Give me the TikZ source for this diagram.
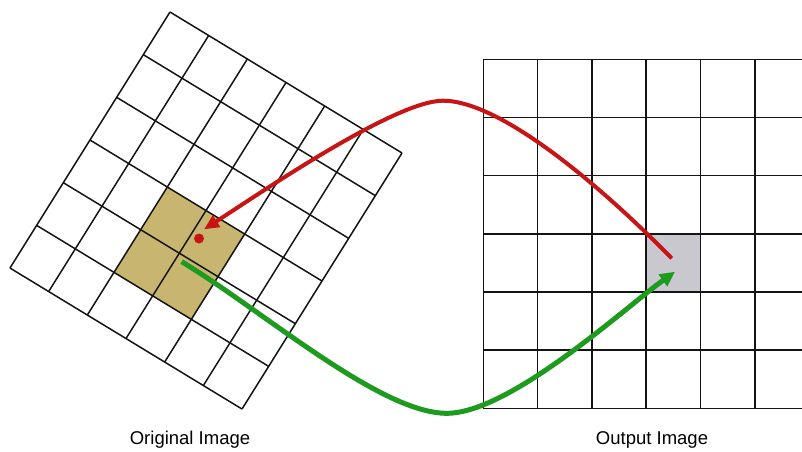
\documentclass[tikz,border=0pt]{standalone}
\usepackage{fontspec}
\setmainfont{Liberation Sans}
\usetikzlibrary{arrows.meta}
\definecolor{gridline}{RGB}{20,20,20}
\definecolor{khaki}{RGB}{200,182,112}
\definecolor{cellgray}{RGB}{200,200,206}
\definecolor{arrowred}{RGB}{200,20,20}
\definecolor{arrowgreen}{RGB}{30,155,30}
\tikzset{
  gridstroke/.style={draw=gridline, line width=1.5pt},
  redarrow/.style={draw=arrowred, line width=4pt, -{Triangle[length=15pt,width=13pt]}},
  greenarrow/.style={draw=arrowgreen, line width=5pt, -{Triangle[length=15pt,width=14pt]}},
  caption/.style={font=\fontsize{18.5}{22}\selectfont, text=black, inner sep=0pt}
}
\begin{document}
\begin{tikzpicture}[x=1pt,y=-1pt]
\useasboundingbox (0,0) rectangle (802,451);
\fill[white] (0,0) rectangle (802,451);

% right (output) grid
\fill[cellgray] (646.6,233.8) rectangle (700.9,292.0);
\foreach \k in {0,...,5} {
  \draw[gridstroke] ({483.3+54.3*\k},59.3) -- ({483.3+54.3*\k},408.3);
}
\foreach \k in {0,...,6} {
  \draw[gridstroke] (483.3,{59.3+58.17*\k}) -- (802,{59.3+58.17*\k});
}

% left (original) rotated grid
\begin{scope}[shift={(170,12)}, x={(38.67pt,-23.5pt)}, y={(-26.67pt,-42.67pt)}]
  \fill[khaki] (2,3) -- (4,3) -- (4,5) -- (2,5) -- cycle;
  \foreach \k in {0,...,6} {
    \draw[gridstroke] (\k,0) -- (\k,6);
    \draw[gridstroke] (0,\k) -- (6,\k);
  }
\end{scope}

% named points
\coordinate (redstart) at (671.7,258.3);
\coordinate (redpeak) at (443,100.7);
\coordinate (redtip) at (204,229.3);
\coordinate (greenstart) at (181.7,261.7);
\coordinate (greenlow) at (446.7,413.3);
\coordinate (greentip) at (675,271.7);

\fill[arrowred] (199,238.5) circle (5);

\draw[redarrow] (redstart) .. controls (600,185) and (500,100.7) .. (redpeak)
  .. controls (395,100.7) and (262,192) .. (redtip);
\draw[greenarrow] (greenstart) .. controls (262,310) and (380,413.3) .. (greenlow)
  .. controls (510,413.3) and (625,307.7) .. (greentip);

\node[caption] (origlabel) at (190,440) {Original Image};
\node[caption] (outlabel) at (652,440) {Output Image};
\end{tikzpicture}
\end{document}
